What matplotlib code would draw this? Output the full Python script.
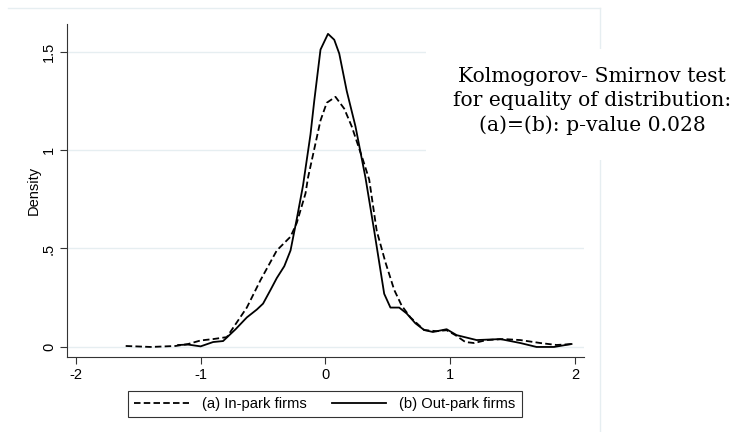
import matplotlib
matplotlib.use("Agg")
import matplotlib.pyplot as plt
from matplotlib.lines import Line2D
from matplotlib.patches import Rectangle

# density estimates
x_in = [-1.6, -1.4, -1.2, -1.1, -1.0, -0.9, -0.79, -0.63, -0.52, -0.39, -0.28, -0.23,
        -0.16, -0.14, -0.04, 0.01, 0.08, 0.15, 0.21, 0.30, 0.35, 0.41, 0.48, 0.55,
        0.61, 0.68, 0.79, 0.89, 0.97, 1.04, 1.12, 1.19, 1.29, 1.43, 1.56, 1.72, 1.85, 1.98]
y_in = [0.005, 0.0, 0.005, 0.015, 0.033, 0.04, 0.05, 0.20, 0.34, 0.49, 0.56, 0.63,
        0.78, 0.86, 1.15, 1.24, 1.27, 1.21, 1.12, 0.95, 0.85, 0.59, 0.43, 0.29,
        0.21, 0.15, 0.086, 0.08, 0.085, 0.06, 0.025, 0.02, 0.035, 0.04, 0.035, 0.02, 0.01, 0.015]

x_out = [-1.18, -1.1, -1.0, -0.9, -0.82, -0.72, -0.63, -0.55, -0.50, -0.44, -0.39, -0.33,
         -0.28, -0.23, -0.18, -0.12, -0.09, -0.04, 0.02, 0.07, 0.11, 0.17, 0.24, 0.32,
         0.39, 0.43, 0.47, 0.52, 0.59, 0.65, 0.72, 0.79, 0.86, 0.97, 1.05, 1.21, 1.40,
         1.56, 1.69, 1.83, 1.97]
y_out = [0.01, 0.012, 0.003, 0.025, 0.03, 0.09, 0.15, 0.19, 0.22, 0.29, 0.35, 0.41,
         0.49, 0.65, 0.82, 1.08, 1.25, 1.51, 1.59, 1.56, 1.49, 1.30, 1.12, 0.86,
         0.59, 0.43, 0.27, 0.20, 0.20, 0.17, 0.12, 0.086, 0.076, 0.09, 0.06, 0.035, 0.04,
         0.02, 0.0, 0.0, 0.015]

xticks = [-2, -1, 0, 1, 2]
yticks = [0, 0.5, 1, 1.5]
ytick_labels = ["0", ".5", "1", "1.5"]
labels = ["(a) In-park firms", "(b) Out-park firms"]
ks_text = "Kolmogorov- Smirnov test\nfor equality of distribution:\n(a)=(b): p-value 0.028"

plt.rcParams['font.family'] = ['Liberation Sans', 'DejaVu Sans']

fig = plt.figure(figsize=(7.35, 4.32), dpi=100)
ax = fig.add_axes([67 / 735, 75 / 432, 517 / 735, 333 / 432])

grid_col = '#e6eef1'
for t in yticks:
    ax.axhline(t, color=grid_col, lw=1, zorder=0)

dash = (0, (3.6, 1.8))
ax.plot(x_in, y_in, color='black', lw=1.3, linestyle=dash, zorder=3)
ax.plot(x_out, y_out, color='black', lw=1.3, zorder=3)

ax.set_xlim(-2.07, 2.07)
ax.set_ylim(-0.051, 1.64)
ax.set_xticks(xticks)
ax.set_xticklabels([str(t) for t in xticks])
ax.set_yticks(yticks)
ax.set_yticklabels(ytick_labels, rotation=90, va='center')
ax.tick_params(direction='out', length=5, width=0.8, labelsize=10.5, colors='#333333',
               labelcolor='black', pad=3)
for s in ['top', 'right']:
    ax.spines[s].set_visible(False)
for s in ['left', 'bottom']:
    ax.spines[s].set_color('#333333')
    ax.spines[s].set_linewidth(0.8)
ax.set_ylabel("Density", fontsize=10.5, labelpad=1)

# graph region border (faint)
fig.add_artist(Line2D([8 / 735, 600 / 735], [1 - 8 / 432, 1 - 8 / 432],
                      color=grid_col, lw=1, transform=fig.transFigure))
fig.add_artist(Line2D([600 / 735, 600 / 735], [0, 1 - 8 / 432],
                      color=grid_col, lw=1, transform=fig.transFigure))

handles = [Line2D([], [], color='black', lw=1.3, linestyle=dash),
           Line2D([], [], color='black', lw=1.3)]
leg = fig.legend(handles, labels, ncol=2, loc='center',
                 bbox_to_anchor=(325 / 735, 1 - 404 / 432), fontsize=10.6,
                 frameon=True, fancybox=False, edgecolor='black', handlelength=3.7,
                 columnspacing=1.7, handletextpad=0.9, borderpad=0.4, borderaxespad=0)
leg.get_frame().set_linewidth(0.8)

# white box behind the test note
fig.add_artist(Rectangle((426 / 735, 1 - 160 / 432), 309 / 735, 111 / 432,
                         facecolor='white', edgecolor='none', transform=fig.transFigure,
                         zorder=5))
fig.text(592 / 735, 1 - 101 / 432, ks_text, ha='center', va='center',
         fontsize=14.6, family='DejaVu Serif', linespacing=1.33, zorder=6)

fig.savefig("out.png", dpi=100, facecolor='white')
